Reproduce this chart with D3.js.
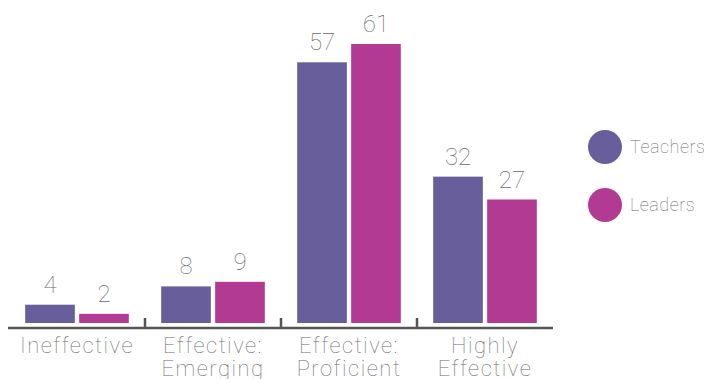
<!DOCTYPE html>
<html>
<head>
<meta charset="utf-8">
<script src="https://cdn.jsdelivr.net/npm/d3@7"></script>
<style>
  body { margin: 0; background: #fff; }
  text { font-family: Roboto, "Open Sans", sans-serif; font-weight: 100; fill: #6b6b6b; }
</style>
</head>
<body>
<div id="chart"></div>
<script>
// data
const categories = [["Ineffective"], ["Effective:", "Emerging"], ["Effective:", "Proficient"], ["Highly", "Effective"]];
const series = ["Teachers", "Leaders"];
const colors = ["#685e9b", "#b33a92"];
const teachers = [4, 8, 57, 32];
const leaders = [2, 9, 61, 27];

const width = 706, height = 379;
const rows = categories.map((c, i) => ({ key: i, label: c, values: [teachers[i], leaders[i]] }));

const svg = d3.select("#chart").append("svg")
  .attr("width", width)
  .attr("height", height);

const x0 = d3.scaleBand()
  .domain(rows.map(d => d.key))
  .range([9, 553]);

const x1 = d3.scaleBand()
  .domain(series)
  .range([0, x0.bandwidth()])
  .paddingInner(0.08)
  .paddingOuter(0.3);

const y = d3.scaleLinear()
  .domain([0, 61])
  .range([323, 44]);

const color = d3.scaleOrdinal().domain(series).range(colors);

const group = svg.append("g")
  .selectAll("g")
  .data(rows)
  .join("g")
  .attr("transform", d => `translate(${x0(d.key)},0)`);

const bars = group.selectAll("g")
  .data(d => series.map((s, i) => ({ s, v: d.values[i] })))
  .join("g");

bars.append("rect")
  .attr("x", d => x1(d.s))
  .attr("y", d => y(d.v))
  .attr("width", x1.bandwidth())
  .attr("height", d => y(0) - y(d.v))
  .attr("fill", d => color(d.s));

bars.append("text")
  .attr("x", d => x1(d.s) + x1.bandwidth() / 2)
  .attr("y", d => y(d.v) - 12)
  .attr("text-anchor", "middle")
  .attr("font-size", 24)
  .text(d => d.v);

// category labels
group.append("text")
  .attr("x", x0.bandwidth() / 2)
  .attr("y", 353)
  .attr("text-anchor", "middle")
  .attr("font-size", 22)
  .attr("letter-spacing", 1.5)
  .selectAll("tspan")
  .data(d => d.label)
  .join("tspan")
  .attr("x", x0.bandwidth() / 2)
  .attr("dy", (d, i) => i ? 23 : 0)
  .text(d => d);

// baseline + separators
const axisY = 328;
svg.append("line")
  .attr("x1", 8).attr("x2", 553)
  .attr("y1", axisY).attr("y2", axisY)
  .attr("stroke", "#555").attr("stroke-width", 2.5);

svg.append("g")
  .selectAll("line")
  .data(rows.slice(1))
  .join("line")
  .attr("x1", d => x0(d.key)).attr("x2", d => x0(d.key))
  .attr("y1", 318).attr("y2", axisY)
  .attr("stroke", "#555").attr("stroke-width", 2.5);

// legend
const legend = svg.append("g")
  .selectAll("g")
  .data(series)
  .join("g")
  .attr("transform", (d, i) => `translate(605,${147 + i * 58})`);

legend.append("circle")
  .attr("r", 17)
  .attr("fill", d => color(d));

legend.append("text")
  .attr("x", 25)
  .attr("dy", "0.35em")
  .attr("font-size", 18)
  .attr("letter-spacing", 0.5)
  .text(d => d);
</script>
</body>
</html>
